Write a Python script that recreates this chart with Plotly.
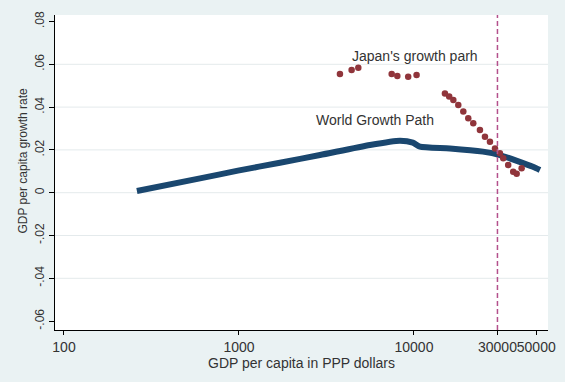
import plotly.graph_objects as go

# World growth path
world_gdp = [261, 599, 986, 1714, 2904, 5607, 8318, 9860, 10814, 16060, 24790, 30970, 47860, 52480]
world_growth = [0.0008, 0.0067, 0.0103, 0.0140, 0.0176, 0.0223, 0.0243, 0.0234, 0.0215, 0.0207, 0.0192, 0.0176, 0.0121, 0.0106]

# Japan's growth path
japan_gdp = [3776, 4402, 4808, 7460, 8035, 9268, 10350,
             15030, 15900, 16790, 17920, 19140, 20430, 21820, 23830, 25450, 27180,
             29040, 30990, 32370, 34560, 36910, 38620, 41240]
japan_growth = [0.0555, 0.0573, 0.0584, 0.0555, 0.0545, 0.0542, 0.0550,
                0.0464, 0.0450, 0.0433, 0.0410, 0.0379, 0.0348, 0.0324, 0.0293, 0.0262, 0.0238,
                0.0207, 0.0184, 0.0161, 0.0129, 0.0098, 0.0088, 0.0114]

x_ticks = [100, 1000, 10000, 30000, 50000]
x_tick_labels = ["100", "1000", "10000", "30000", "50000"]
y_ticks = [-0.06, -0.04, -0.02, 0, 0.02, 0.04, 0.06, 0.08]
y_tick_labels = ["-.06", "-.04", "-.02", "0", ".02", ".04", ".06", ".08"]
grid_values = [-0.04, -0.02, 0, 0.02, 0.04, 0.06]
vline_x = 30000

FONT = "Liberation Sans, Arial, sans-serif"
TXT = "#333333"

fig = go.Figure()

for g in grid_values:
    fig.add_shape(type="line", xref="paper", yref="y", x0=0, x1=1, y0=g, y1=g,
                  line=dict(color="#e4eaec", width=1), layer="below")

fig.add_trace(go.Scatter(x=world_gdp, y=world_growth, mode="lines",
                         line=dict(color="#1a476f", width=6, shape="spline", smoothing=0.6),
                         showlegend=False, hoverinfo="skip"))
fig.add_trace(go.Scatter(x=japan_gdp, y=japan_growth, mode="markers",
                         marker=dict(color="#90353b", size=6.5),
                         showlegend=False, hoverinfo="skip"))

fig.add_shape(type="line", xref="x", yref="paper", x0=vline_x, x1=vline_x, y0=0, y1=1,
              line=dict(color="#b4508c", width=1.5, dash="5px,3px"))

fig.add_annotation(x=4.006, y=0.0639, xref="x", yref="y", text="Japan's growth parh",
                   showarrow=False, font=dict(family=FONT, size=14, color=TXT))
fig.add_annotation(x=3.777, y=0.034, xref="x", yref="y", text="World Growth Path",
                   showarrow=False, font=dict(family=FONT, size=14, color=TXT))

# axis titles
fig.add_annotation(x=0.5, y=0, xref="paper", yref="paper", yshift=-33,
                   xanchor="center", yanchor="middle", text="GDP per capita in PPP dollars",
                   showarrow=False, font=dict(family=FONT, size=14, color=TXT))
fig.add_annotation(x=0, y=0.5, xref="paper", yref="paper", xshift=-33, yshift=12,
                   xanchor="center", yanchor="middle", textangle=-90,
                   text="GDP per capita growth rate",
                   showarrow=False, font=dict(family=FONT, size=12, color=TXT))

fig.update_layout(
    width=565, height=382,
    margin=dict(l=55, r=17, t=15, b=52),
    paper_bgcolor="#eaf2f3",
    plot_bgcolor="#ffffff",
    font=dict(family=FONT, size=12, color=TXT),
    xaxis=dict(type="log", range=[1.9486, 4.766], tickvals=x_ticks, ticktext=x_tick_labels,
               tickangle=0,
               showgrid=False, zeroline=False, showline=True, linecolor="#000000", linewidth=1,
               ticks="outside", ticklen=4, tickcolor="#000000", automargin=False,
               tickfont=dict(family=FONT, size=14, color=TXT)),
    yaxis=dict(range=[-0.06416, 0.08304], tickvals=y_ticks, ticktext=y_tick_labels,
               tickangle=-90, showgrid=False,
               zeroline=False, showline=True, linecolor="#000000", linewidth=1,
               ticks="outside", ticklen=5, tickcolor="#000000", automargin=False,
               tickfont=dict(family=FONT, size=12, color=TXT)),
)

fig.write_html("out.html", config={"displayModeBar": False},
               post_script="document.body.style.margin='0';")
